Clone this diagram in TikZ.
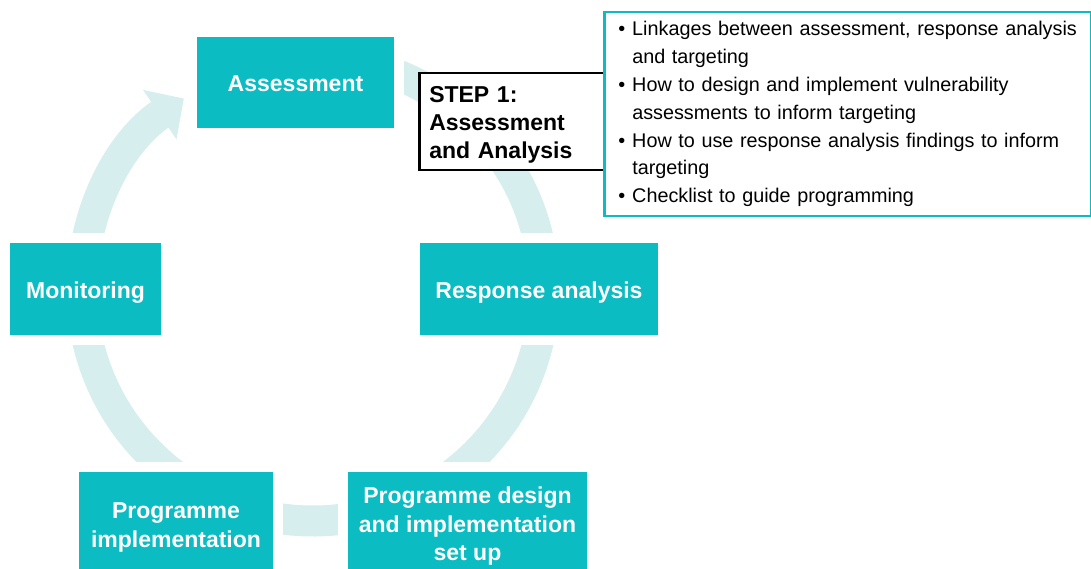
\documentclass[tikz,border=0pt]{standalone}
\usepackage{fontspec}
\setmainfont{Liberation Sans}
\usetikzlibrary{arrows.meta}

\definecolor{stageteal}{HTML}{0BBCC2}
\definecolor{ringpale}{HTML}{D6EEEE}

\tikzset{
  stage/.style={fill=stageteal, text=white, align=center, inner sep=0pt,
    font=\fontsize{23}{28.5}\selectfont\bfseries,
    preaction={draw=white, line width=20pt}},
  oneline/.style={text height=19pt, text depth=0pt},
  stepbox/.style={draw=black, line width=2.5pt, fill=white, align=left,
    inner xsep=10pt, inner ysep=0pt, font=\fontsize{23}{28}\selectfont\bfseries},
  infobox/.style={draw=stageteal, line width=2.5pt, fill=white, align=left,
    inner xsep=14pt, inner ysep=0pt, font=\fontsize{19.8}{27.8}\selectfont},
  ring/.style={draw=ringpale, line width=31pt}
}

\newcommand{\bulletmark}{\makebox[14pt][l]{\textbullet}}
\newcommand{\bulletgap}{\hspace*{14pt}}

\begin{document}
\begin{tikzpicture}[x=1pt,y=1pt]
\useasboundingbox (0,0) rectangle (1091,-569);
\coordinate (c) at (313,-290);

% cycle ring
\draw[ring, -{Triangle[width=58pt,length=29pt]}]
  ([shift={(95:231)}]c) arc[start angle=95, end angle=-236, radius=231];

% stages
\node[stage, oneline, minimum width=197pt, minimum height=91pt] (assess) at (295.5,-82.5) {Assessment};
\node[stage, oneline, minimum width=238pt, minimum height=92pt] (resp) at (539,-289) {Response analysis};
\node[stage, minimum width=239pt, minimum height=109pt] (design) at (467.5,-526.5) {Programme design\\and implementation\\set up};
\node[stage, minimum width=194pt, minimum height=111pt] (impl) at (176,-527.5) {Programme\\implementation};
\node[stage, oneline, minimum width=151pt, minimum height=92pt] (monit) at (85.5,-289) {Monitoring};

% step 1 callout
\node[stepbox, anchor=north west, text width=166pt, minimum height=97pt] (step1) at (418,-72)
  {\rule{0pt}{22pt}STEP 1:\\Assessment\\and Analysis};
\node[infobox, anchor=north west, text width=459pt, minimum height=204pt] (info) at (603,-11)
  {\bulletmark Linkages between assessment, response analysis\\
   \bulletgap and targeting\\
   \bulletmark How to design and implement vulnerability\\
   \bulletgap assessments to inform targeting\\
   \bulletmark How to use response analysis findings to inform\\
   \bulletgap targeting\\
   \bulletmark Checklist to guide programming};
\end{tikzpicture}
\end{document}
